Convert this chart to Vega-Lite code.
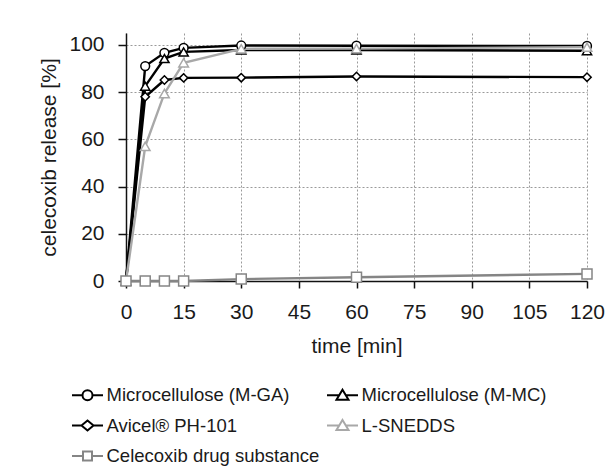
{
  "$schema": "https://vega.github.io/schema/vega-lite/v6.json",
  "autosize": {"type": "none"},
  "width": 461,
  "height": 248,
  "padding": {"left": 126, "top": 33, "right": 28, "bottom": 189},
  "background": "white",
  "config": {
    "view": {"stroke": null},
    "font": "Liberation Sans",
    "axis": {
      "labelFont": "Liberation Sans",
      "titleFont": "Liberation Sans",
      "labelColor": "#1a1a1a",
      "titleColor": "#1a1a1a",
      "titleFontWeight": "normal",
      "domainColor": "#111111",
      "domainWidth": 1.5,
      "tickColor": "#111111",
      "tickWidth": 1.5,
      "gridColor": "#9a9a9a",
      "gridDash": [2, 2],
      "gridWidth": 1
    },
    "legend": {"labelFont": "Liberation Sans"}
  },
  "data": {
    "values": [
      {"t": 0, "v": 0, "s": "Microcellulose (M-GA)"},
      {"t": 5, "v": 91, "s": "Microcellulose (M-GA)"},
      {"t": 10, "v": 96.6, "s": "Microcellulose (M-GA)"},
      {"t": 15, "v": 98.7, "s": "Microcellulose (M-GA)"},
      {"t": 30, "v": 99.7, "s": "Microcellulose (M-GA)"},
      {"t": 60, "v": 99.6, "s": "Microcellulose (M-GA)"},
      {"t": 120, "v": 99.5, "s": "Microcellulose (M-GA)"},
      {"t": 0, "v": 0, "s": "Microcellulose (M-MC)"},
      {"t": 5, "v": 82.5, "s": "Microcellulose (M-MC)"},
      {"t": 10, "v": 94.2, "s": "Microcellulose (M-MC)"},
      {"t": 15, "v": 97, "s": "Microcellulose (M-MC)"},
      {"t": 30, "v": 97.8, "s": "Microcellulose (M-MC)"},
      {"t": 60, "v": 97.8, "s": "Microcellulose (M-MC)"},
      {"t": 120, "v": 97.5, "s": "Microcellulose (M-MC)"},
      {"t": 0, "v": 0, "s": "Avicel® PH-101"},
      {"t": 5, "v": 78, "s": "Avicel® PH-101"},
      {"t": 10, "v": 85.1, "s": "Avicel® PH-101"},
      {"t": 15, "v": 86, "s": "Avicel® PH-101"},
      {"t": 30, "v": 86.1, "s": "Avicel® PH-101"},
      {"t": 60, "v": 86.6, "s": "Avicel® PH-101"},
      {"t": 120, "v": 86.3, "s": "Avicel® PH-101"},
      {"t": 0, "v": 0, "s": "L-SNEDDS"},
      {"t": 5, "v": 57, "s": "L-SNEDDS"},
      {"t": 10, "v": 79.4, "s": "L-SNEDDS"},
      {"t": 15, "v": 92.4, "s": "L-SNEDDS"},
      {"t": 30, "v": 98.3, "s": "L-SNEDDS"},
      {"t": 60, "v": 98.4, "s": "L-SNEDDS"},
      {"t": 120, "v": 99, "s": "L-SNEDDS"},
      {"t": 0, "v": 0, "s": "Celecoxib drug substance"},
      {"t": 5, "v": 0, "s": "Celecoxib drug substance"},
      {"t": 10, "v": 0, "s": "Celecoxib drug substance"},
      {"t": 15, "v": 0, "s": "Celecoxib drug substance"},
      {"t": 30, "v": 0.8, "s": "Celecoxib drug substance"},
      {"t": 60, "v": 1.6, "s": "Celecoxib drug substance"},
      {"t": 120, "v": 3, "s": "Celecoxib drug substance"}
    ]
  },
  "encoding": {
    "x": {
      "field": "t",
      "type": "quantitative",
      "scale": {"domain": [0, 120], "nice": false, "zero": false},
      "axis": {
        "values": [0, 15, 30, 45, 60, 75, 90, 105, 120],
        "title": "time [min]",
        "labelFontSize": 21,
        "titleFontSize": 21,
        "tickSize": 7,
        "labelPadding": 13,
        "titlePadding": 13,
        "labelFlush": false,
        "labelOverlap": false
      }
    },
    "y": {
      "field": "v",
      "type": "quantitative",
      "scale": {"domain": [0, 105], "nice": false},
      "axis": {
        "values": [0, 20, 40, 60, 80, 100],
        "title": "celecoxib release [%]",
        "labelFontSize": 21,
        "titleFontSize": 21,
        "tickSize": 8,
        "labelPadding": 14,
        "titlePadding": 9,
        "labelFlush": false,
        "labelOverlap": false
      }
    }
  },
  "layer": [
    {
      "mark": {"type": "line", "strokeWidth": 2.4},
      "encoding": {
        "color": {
          "field": "s",
          "type": "nominal",
          "scale": {
            "domain": ["Microcellulose (M-GA)", "Microcellulose (M-MC)", "Avicel® PH-101", "L-SNEDDS", "Celecoxib drug substance"],
            "range": ["#000000", "#000000", "#000000", "#a8a8a8", "#858585"]
          },
          "legend": {
            "title": null,
            "orient": "none",
            "legendX": -49.5,
            "legendY": 351,
            "columns": 2,
            "direction": "horizontal",
            "padding": 0,
            "columnPadding": 3,
            "rowPadding": 9.5,
            "symbolSize": 400,
            "symbolStrokeWidth": 2,
            "symbolFillColor": "white",
            "labelFontSize": 18.5,
            "labelColor": "#1a1a1a",
            "labelOffset": 8,
            "labelLimit": 400,
            "gridAlign": "each",
            "encode": {
              "symbols": {
                "update": {
                  "fill": {"value": "white"},
                  "shape": [
                    {"test": "datum.value === 'Microcellulose (M-GA)'", "value": "M-1.55,0H-0.5M0.5,0H1.55M-0.5,0A0.5,0.5 0 1,1 0.5,0A0.5,0.5 0 1,1 -0.5,0Z"},
                    {"test": "datum.value === 'Avicel® PH-101'", "value": "M-1.55,0H-0.6M0.6,0H1.55M0,-0.5L0.6,0L0,0.5L-0.6,0Z"},
                    {"test": "datum.value === 'Celecoxib drug substance'", "value": "M-1.55,0H-0.45M0.45,0H1.55M-0.45,-0.45H0.45V0.45H-0.45Z"},
                    {"value": "M-1.55,0H-0.33M0.33,0H1.55M0,-0.55L0.6,0.45L-0.6,0.45Z"}
                  ]
                }
              }
            }
          }
        }
      }
    },
    {
      "mark": {"type": "point", "filled": true, "fill": "white", "opacity": 1, "strokeWidth": 1.5},
      "encoding": {
        "stroke": {
          "field": "s",
          "type": "nominal",
          "scale": {
            "domain": ["Celecoxib drug substance", "Microcellulose (M-GA)", "Microcellulose (M-MC)", "Avicel® PH-101", "L-SNEDDS"],
            "range": ["#858585", "#000000", "#000000", "#000000", "#a8a8a8"]
          },
          "legend": null
        },
        "shape": {
          "field": "s",
          "type": "nominal",
          "scale": {
            "domain": ["Microcellulose (M-MC)", "Microcellulose (M-GA)", "Avicel® PH-101", "L-SNEDDS", "Celecoxib drug substance"],
            "range": ["triangle-up", "circle", "diamond", "triangle-up", "square"]
          },
          "legend": null
        },
        "size": {
          "field": "s",
          "type": "nominal",
          "scale": {
            "domain": ["Avicel® PH-101", "Microcellulose (M-GA)", "Microcellulose (M-MC)", "L-SNEDDS", "Celecoxib drug substance"],
            "range": [70, 100, 100, 100, 50]
          },
          "legend": null
        }
      }
    }
  ]
}
